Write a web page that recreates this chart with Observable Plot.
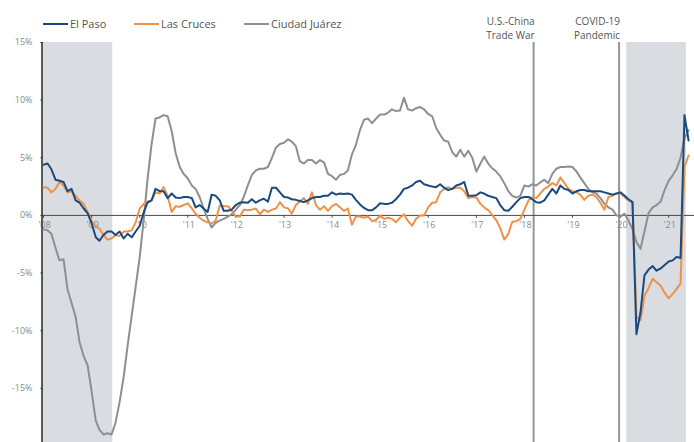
<!DOCTYPE html>
<html><head><meta charset="utf-8">
<script src="https://cdn.jsdelivr.net/npm/d3@7"></script>
<script src="https://cdn.jsdelivr.net/npm/@observablehq/plot@0.6"></script>
<style>
body{margin:0;background:#fff;font-family:"Open Sans",sans-serif;}
#wrap{position:relative;width:694px;height:442px;overflow:hidden;}
.item{position:absolute;top:17px;height:14px;line-height:14px;display:flex;align-items:center;white-space:nowrap;font-size:11px;color:#555;}
.sw{display:inline-block;width:25px;height:2.5px;margin-right:2px;}
</style></head>
<body><div id="wrap"></div>
<script>
// Monthly year-over-year employment growth (%), starting January 2008
const startYear = 2008;
const elPaso = [
 4.4, 4.5, 4.0, 3.1, 3.0, 2.9, 2.1, 2.3, 1.3, 1.1, 0.6, 0.2,
 -0.7, -1.9, -2.2, -1.7, -1.4, -1.4, -1.7, -1.4, -2.0, -1.6, -1.9, -1.4,
 -0.9, 0.3, 1.1, 1.3, 2.3, 2.1, 2.1, 1.5, 1.9, 1.55, 1.5, 1.6,
 1.6, 1.5, 0.7, 0.9, 0.6, 0.3, 1.8, 1.7, 1.3, 0.4, 0.4, 0.5,
 0.9, 1.1, 1.15, 1.1, 1.4, 1.1, 1.3, 1.45, 1.2, 2.4, 2.4, 2.0,
 1.6, 1.55, 1.4, 1.35, 1.25, 1.15, 1.3, 1.5, 1.6, 1.6, 1.7, 1.7,
 2.0, 1.8, 1.9, 1.85, 1.9, 1.8, 1.35, 0.95, 0.65, 0.45, 0.45, 0.7,
 1.05, 1.0, 1.0, 1.1, 1.4, 1.8, 2.3, 2.4, 2.6, 2.9, 3.0, 2.7,
 2.6, 2.5, 2.45, 2.7, 2.4, 2.2, 2.3, 2.6, 2.7, 2.9, 1.7, 1.7,
 1.75, 2.0, 1.9, 1.7, 1.6, 1.5, 0.9, 0.45, 0.4, 0.75, 1.15, 1.5,
 1.6, 1.6, 1.4, 1.15, 1.1, 1.3, 1.8, 2.3, 1.9, 2.6, 2.3, 2.2,
 1.9, 2.1, 2.2, 2.2, 2.1, 2.1, 2.1, 2.1, 2.0, 1.9, 1.8, 1.9,
 2.0, 1.7, 1.4, 1.15, -10.3, -8.4, -5.2, -4.7, -4.4, -4.8, -4.6, -4.3,
 -4.0, -3.9, -3.6, -3.7, 8.7, 6.5
];
const lasCruces = [
 2.45, 2.4, 2.0, 2.3, 2.9, 2.6, 2.0, 2.1, 1.7, 1.3, 1.0, 0.3,
 -0.5, -1.0, -1.15, -1.7, -2.1, -2.0, -1.7, -1.8, -1.4, -1.4, -1.3, -0.6,
 0.6, 1.0, 1.2, 1.3, 2.0, 1.9, 2.45, 1.7, 0.3, 0.8, 0.75, 0.9,
 1.05, 0.6, 0.15, -0.2, -0.45, -0.6, -0.7, -0.45, 0.85, 0.8, 0.8, 0.4,
 -0.1, -0.1, 0.5, 0.45, 0.5, 0.6, 0.1, 0.5, 0.3, 0.5, 0.6, 1.15,
 0.7, 0.6, 0.15, 0.9, 1.2, 1.5, 1.0, 2.0, 0.9, 0.5, 0.8, 0.4,
 0.8, 1.0, 0.7, 0.4, 0.6, -0.8, -0.1, -0.1, -0.2, -0.1, -0.5, -0.4,
 0.0, -0.3, -0.2, -0.3, -0.6, -0.2, 0.1, -0.5, -0.9, -0.3, 0.0, 0.0,
 0.7, 1.1, 1.15, 2.0, 2.3, 2.45, 2.3, 2.4, 2.4, 2.1, 1.5, 1.6,
 1.55, 1.0, 0.7, 0.45, 0.05, -0.4, -1.1, -2.1, -1.6, -0.55, -0.5, -0.3,
 0.5, 1.3, 1.6, 1.5, 1.9, 2.3, 2.5, 2.8, 2.6, 3.3, 2.8, 2.3,
 2.1, 2.0, 1.8, 1.35, 1.7, 1.8, 1.6, 1.1, 0.5, 1.6, 1.7, 1.9,
 1.9, 1.6, 1.3, 1.1, -8.8, -9.1, -7.0, -6.3, -5.5, -5.8, -6.1, -6.7,
 -7.2, -6.8, -6.4, -5.9, 4.2, 5.2
];
const ciudadJuarez = [
 -1.2, -1.3, -1.6, -2.8, -3.9, -3.8, -6.4, -7.6, -8.8, -11.0, -12.2, -13.0,
 -15.3, -17.8, -18.6, -19.0, -18.9, -19.0, -18.0, -16.2, -14.0, -11.3, -8.7, -6.2,
 -3.6, -0.3, 3.1, 6.2, 8.4, 8.5, 8.7, 8.6, 7.3, 5.4, 4.2, 3.6,
 3.2, 2.6, 2.3, 1.6, 0.6, -0.3, -1.05, -0.65, -0.45, -0.3, -0.1, 0.1,
 0.5, 0.9, 1.6, 2.6, 3.5, 3.9, 4.05, 4.05, 4.2, 5.0, 5.9, 6.2,
 6.3, 6.6, 6.4, 6.0, 4.7, 4.5, 4.8, 4.8, 4.5, 4.8, 4.6, 3.6,
 3.4, 3.1, 3.5, 3.6, 3.9, 5.3, 6.1, 7.4, 8.3, 8.4, 8.0, 8.4,
 8.75, 8.75, 8.9, 9.2, 9.05, 9.1, 10.2, 9.2, 9.1, 9.3, 9.4, 9.2,
 8.8, 8.6, 7.6, 7.0, 6.5, 6.4, 5.5, 5.1, 5.7, 5.1, 5.6, 5.0,
 3.8, 4.5, 5.1, 4.5, 4.1, 3.8, 3.4, 2.8, 2.1, 1.7, 1.55, 1.7,
 2.6, 2.5, 2.7, 2.6, 2.85, 3.1, 2.8, 3.6, 4.05, 4.2, 4.2, 4.25,
 4.2, 3.8, 3.3, 2.8, 2.3, 2.0, 1.9, 1.5, 1.0, 0.7, 0.5, 0.0,
 -0.1, 0.15, -0.45, -1.2, -2.3, -2.9, -1.4, 0.2, 0.7, 0.9, 1.2, 2.2,
 3.0, 3.5, 4.0, 5.0, 6.7, 7.4
];
const seriesNames = ["El Paso", "Las Cruces", "Ciudad Juárez"];
const seriesColors = ["#1b4a7e", "#ee9249", "#8d8f92"];
const yTicks = [-15, -10, -5, 0, 5, 10, 15];
const yearTicks = [2008,2009,2010,2011,2012,2013,2014,2015,2016,2017,2018,2019,2020,2021];
const yearLabels = ["'08","'09","'10","'11","'12","'13","'14","'15","'16","'17","'18","'19","'20","'21"];
const recessions = [
  {start: "2008-01-01", end: "2009-06-10"},
  {start: "2020-02-18", end: "2021-05-15"}
];
const events = [
  {date: "2018-03-12", line1: "U.S.-China", line2: "Trade War"},
  {date: "2019-12-21", line1: "COVID-19", line2: "Pandemic"}
];

const d = s => new Date(s + "T00:00:00Z");
const x0 = new Date(Date.UTC(startYear, 0, 1));
const xEnd = new Date(Date.UTC(2021, 6, 16));
const yMin = -19.7, yMax = 15;

const allSeries = [ciudadJuarez, lasCruces, elPaso];
const allNames = ["Ciudad Juárez", "Las Cruces", "El Paso"];
const rows = [];
allSeries.forEach((vals, k) => vals.forEach((v, i) => rows.push({date: new Date(Date.UTC(startYear, i, 1)), value: v, series: allNames[k]})));
const rec = recessions.map(r => ({start: d(r.start), end: d(r.end)}));
const ev = events.map(e => ({date: d(e.date), line1: e.line1, line2: e.line2}));
const yt = yearTicks.map((y, i) => ({date: new Date(Date.UTC(y, 0, 1)), label: yearLabels[i]}));

const chart = Plot.plot({
  width: 694, height: 442,
  marginTop: 42, marginBottom: 0, marginLeft: 43, marginRight: 0,
  style: {fontFamily: "Open Sans", background: "white", overflow: "visible"},
  x: {type: "utc", domain: [x0, xEnd], axis: null},
  y: {domain: [yMin, yMax], axis: null},
  color: {domain: seriesNames, range: seriesColors},
  marks: [
    Plot.rect(rec, {x1: "start", x2: "end", y1: yMin, y2: yMax, fill: "#d9dce1"}),
    Plot.ruleX(ev, {x: "date", y1: yMin, y2: yMax, stroke: "#939598", strokeWidth: 2}),
    Plot.text(ev, {x: "date", y: yMax, text: "line1", textAnchor: "end", dy: -21, dx: 1, fontSize: 10, fill: "#555"}),
    Plot.text(ev, {x: "date", y: yMax, text: "line2", textAnchor: "end", dy: -7, dx: 1, fontSize: 10, fill: "#555"}),
    Plot.axisY(yTicks, {label: null, tickSize: 3, tickPadding: 8, tickFormat: v => `${v}%`, fontSize: 9, color: "#8a8a8a"}),
    Plot.ruleY([0], {stroke: "#4a4a4a", strokeWidth: 1}),
    Plot.ruleX(yt, {x: "date", y1: 0, y2: -0.25, stroke: "#4a4a4a"}),
    Plot.text(yt, {x: "date", y: 0, text: "label", dy: 10, dx: 1, fontSize: 9, fill: "#8a8a8a"}),
    Plot.ruleX([x0], {y1: yMin, y2: yMax, stroke: "#222", strokeWidth: 1.5, dx: -1.5}),
    Plot.line(rows, {x: "date", y: "value", z: "series", stroke: "series", strokeWidth: 2})
  ]
});

const wrap = document.getElementById("wrap");
wrap.appendChild(chart);
const legendPos = [43, 134, 244];
seriesNames.forEach((n, i) => {
  const it = document.createElement("div");
  it.className = "item";
  it.style.left = legendPos[i] + "px";
  const sw = document.createElement("span");
  sw.className = "sw";
  sw.style.background = seriesColors[i];
  it.appendChild(sw);
  it.appendChild(document.createTextNode(n));
  wrap.appendChild(it);
});
</script>
</body></html>
